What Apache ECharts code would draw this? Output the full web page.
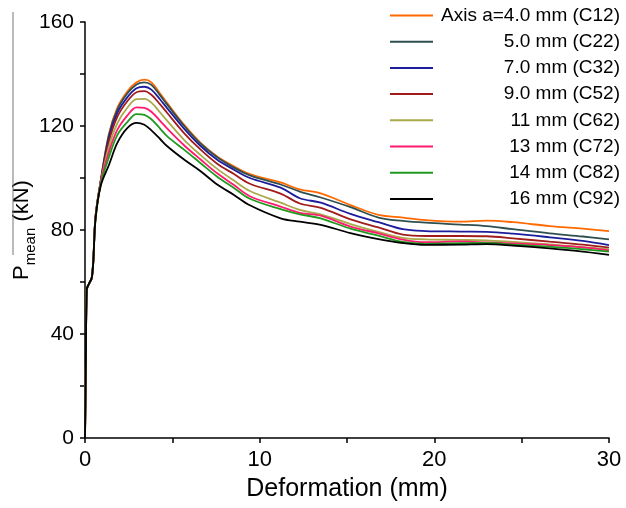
<!DOCTYPE html>
<html>
<head>
<meta charset="utf-8">
<script src="https://cdn.jsdelivr.net/npm/echarts@6/dist/echarts.min.js"></script>
<style>
html, body { margin: 0; padding: 0; background: #fff; }
#chart { width: 626px; height: 508px; }
</style>
</head>
<body>
<div id="chart"></div>
<script>
// deformation (mm), shared by all curves
var deformation = [0, 0.05, 0.1, 0.4, 0.6, 0.9, 1.37, 1.85, 2.42, 2.95, 3.4, 3.8, 4.3, 4.71, 5.67,
    6.62, 7.57, 8.53, 9.44, 11.2, 12.3, 13.5, 15.2, 16.8, 18.2, 19.5, 21.5, 23, 24.5, 26.6, 28.5, 30];

// mean force (kN) for each axis length
var c12 = [0, 30, 57, 62, 85, 99, 117, 127, 133.3, 136.8, 137.8, 136.8, 132.5, 128.8, 120.5,
    113.5, 108.3, 104.5, 101.5, 98.3, 95.6, 94.1, 89.6, 85.8, 84.8, 83.8, 83.2, 83.6, 83, 81.5, 80.5, 79.6];
var c22 = [0, 30, 57, 62, 85, 99, 116.5, 126.3, 132.5, 136, 136.8, 135.8, 131.8, 128.2, 120.1,
    113.2, 108, 104, 101, 97.5, 94.8, 92.5, 88.8, 84.8, 83.5, 82.8, 82.1, 81.5, 80.3, 78.7, 77.5, 76.4];
var c32 = [0, 30, 57, 62, 85, 98.5, 115.5, 125, 131, 134.5, 135.1, 134, 130.2, 126.8, 119,
    112.3, 107, 103.2, 100, 96.3, 92.2, 90.5, 86.2, 83, 80.3, 79.6, 79.4, 79.3, 78.6, 77.2, 75.8, 74.2];
var c52 = [0, 30, 57, 62, 85, 98.5, 114, 123.5, 129.5, 133, 133.4, 132, 128.3, 125, 117.3,
    110.9, 105.5, 101.5, 97.8, 94, 90.2, 88.5, 84.1, 81, 78.2, 77.7, 77.7, 77.6, 76.8, 75.5, 74.4, 73.2];
var c62 = [0, 30, 57, 62, 84.5, 98, 112, 121, 127, 130.3, 130.4, 129, 125.2, 122, 114.7,
    108.8, 103.5, 99, 95, 90.5, 87.7, 86, 82.3, 79.3, 77, 76.4, 76.2, 76, 75.4, 74.5, 73.4, 72.6];
var c72 = [0, 30, 57, 62, 84.5, 98, 110, 118.5, 124, 127.2, 127, 125.5, 122, 119, 112.6,
    107.1, 101.8, 97.3, 93, 89, 86.6, 85.5, 81.3, 78.7, 76.3, 75.3, 75.6, 75.2, 74.8, 74.2, 73.3, 72.2];
var c82 = [0, 30, 57, 62, 84, 97.5, 108, 116.5, 121.5, 124.6, 124.3, 122.6, 119, 116, 110.9,
    105.7, 100.5, 96.2, 92, 88, 86, 84.5, 80.5, 77.8, 75.4, 74.7, 74.9, 75, 74.4, 73.6, 72.6, 71.7];
var c92 = [0, 30, 57, 62, 84, 97, 105, 113.5, 119.2, 121.2, 120.5, 118.3, 115, 112.2, 107.1,
    102.6, 97.5, 93.5, 89.5, 84.5, 83.2, 82, 78.8, 76.5, 75, 74.3, 74.4, 74.6, 74, 72.9, 71.7, 70.4];

var names = ['Axis a=4.0 mm (C12)', '5.0 mm (C22)', '7.0 mm (C32)', '9.0 mm (C52)',
    '11 mm (C62)', '13 mm (C72)', '14 mm (C82)', '16 mm (C92)'];
var curves = [c12, c22, c32, c52, c62, c72, c82, c92];
var colors = ['#ff6a00', '#2f4f4f', '#1c1c9c', '#a01c1c', '#a9a94a', '#ff1a70', '#1f9a1f', '#000000'];

var myChart = echarts.init(document.getElementById('chart'));

var series = curves.map(function(values, i) {
    return {
        name: names[i],
        type: 'line',
        showSymbol: false,
        smooth: 0.35,
        data: deformation.map(function(x, j) { return [x, values[j]]; }),
        lineStyle: { width: 1.8, color: colors[i] },
        itemStyle: { color: colors[i] }
    };
});

var axisFont = 'Liberation Sans, Arial, sans-serif';

var option = {
    animation: false,
    backgroundColor: '#fff',
    grid: { left: 85, right: 17, top: 22, bottom: 70 },
    legend: {
        orient: 'vertical',
        left: 390,
        top: 6,
        padding: 0,
        icon: 'rect',
        itemWidth: 43,
        itemHeight: 2,
        itemGap: 7.2,
        data: names,
        formatter: function(name) { return '{a|' + name + '}'; },
        textStyle: {
            rich: {
                a: { width: 182, align: 'right', fontSize: 19, lineHeight: 19, color: '#000', fontFamily: axisFont }
            }
        }
    },
    xAxis: {
        type: 'value',
        min: 0,
        max: 30,
        interval: 10,
        name: 'Deformation (mm)',
        nameLocation: 'middle',
        nameGap: 39,
        nameTextStyle: { fontSize: 25, color: '#000', fontFamily: axisFont },
        axisLine: { lineStyle: { color: '#000', width: 1.5 } },
        axisTick: { length: 5, lineStyle: { color: '#000', width: 1.5 } },
        minorTick: { show: true, splitNumber: 2, length: 5, lineStyle: { color: '#000', width: 1.5 } },
        axisLabel: { fontSize: 22, color: '#000', margin: 11, fontFamily: axisFont },
        splitLine: { show: false }
    },
    yAxis: {
        type: 'value',
        min: 0,
        max: 160,
        interval: 40,
        axisLine: { show: true, lineStyle: { color: '#000', width: 1.5 } },
        axisTick: { show: true, length: 5, lineStyle: { color: '#000', width: 1.5 } },
        minorTick: { show: true, splitNumber: 2, length: 5, lineStyle: { color: '#000', width: 1.5 } },
        axisLabel: { fontSize: 21, color: '#000', margin: 11, fontFamily: axisFont },
        splitLine: { show: false }
    },
    graphic: [
        {
            type: 'text',
            x: 11,
            y: 230,
            rotation: Math.PI / 2,
            style: {
                text: '{p|P}{s|mean}{p| (kN)}',
                align: 'center',
                verticalAlign: 'top',
                rich: {
                    p: { fontSize: 22, lineHeight: 22, verticalAlign: 'top', fill: '#000', fontFamily: axisFont },
                    s: { fontSize: 15, lineHeight: 15, padding: [12, 0, 0, 0], verticalAlign: 'top', fill: '#000', fontFamily: axisFont }
                }
            }
        },
        {
            type: 'line',
            shape: { x1: 13, y1: 12, x2: 13, y2: 255 },
            style: { stroke: '#777', lineWidth: 1 }
        }
    ],
    series: series
};

myChart.setOption(option);
</script>
</body>
</html>
